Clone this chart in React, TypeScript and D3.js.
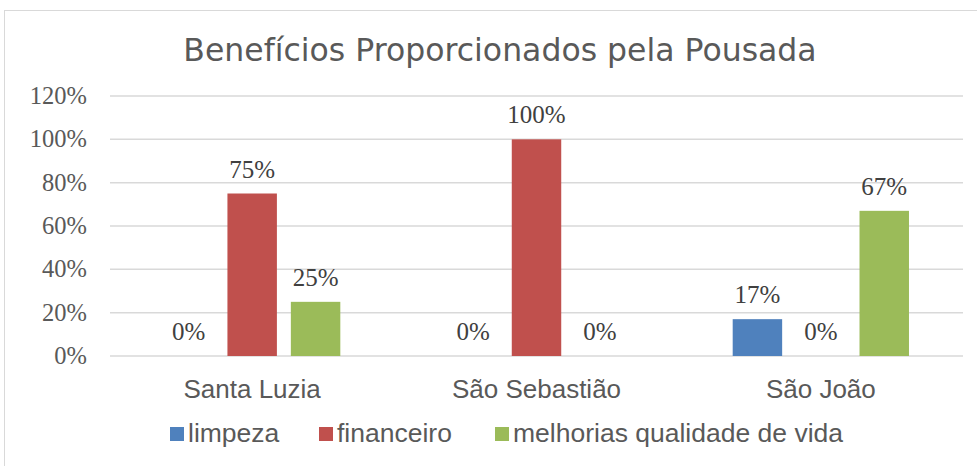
import React from "react";
import * as d3 from "d3";

const categories = ["Santa Luzia", "São Sebastião", "São João"];
const seriesNames = ["limpeza", "financeiro", "melhorias qualidade de vida"];
const limpeza = [0, 0, 0.17];
const financeiro = [0.75, 1.0, 0];
const melhorias = [0.25, 0, 0.67];
const colors = ["#4F81BD", "#C0504D", "#9BBB59"];
const yTicks = [0, 0.2, 0.4, 0.6, 0.8, 1.0, 1.2];

export default function App() {
  const W = 977, H = 466;
  const left = 110, right = 963, top = 96, bottom = 356;
  const series = [limpeza, financeiro, melhorias];
  const x0 = d3.scaleBand().domain(categories).range([left, right]).paddingInner(0.38).paddingOuter(0.19);
  const x1 = d3.scaleBand().domain(seriesNames).range([0, x0.bandwidth()]).paddingInner(0.22);
  const y = d3.scaleLinear().domain([0, 1.2]).range([bottom, top]);
  const fmt = d3.format(".0%");
  const serif = "'Liberation Serif', 'DejaVu Serif', serif";
  const sans = "'Liberation Sans', Arial, sans-serif";
  const legendX = [170, 319, 495];
  return (
    <svg width={W} height={H} style={{ position: "absolute", left: 0, top: 0 }}>
      <rect x={0} y={0} width={W} height={H} fill="#fff" />
      <rect x={4.5} y={10.5} width={W + 10} height={H} fill="none" stroke="#D9D9D9" strokeWidth={1} />
      <text x={500} y={61} textAnchor="middle" fontFamily="'DejaVu Sans', Verdana, sans-serif" fontSize={31.5} fill="#595959">
        Benefícios Proporcionados pela Pousada
      </text>
      {yTicks.map((t) => (
        <g key={t}>
          <line x1={left} x2={right} y1={y(t)} y2={y(t)} stroke="#D9D9D9" strokeWidth={1.5} />
          <text x={87} y={y(t) + 8} textAnchor="end" fontFamily={serif} fontSize={24.5} fill="#595959">
            {fmt(t)}
          </text>
        </g>
      ))}
      {categories.map((c, ci) => (
        <g key={c} transform={`translate(${x0(c)},0)`}>
          {seriesNames.map((s, si) => {
            const v = series[si][ci];
            const bx = x1(s)!;
            return (
              <g key={s}>
                {v > 0 && (
                  <rect x={bx} y={y(v)} width={x1.bandwidth()} height={bottom - y(v)} fill={colors[si]} />
                )}
                <text
                  x={bx + x1.bandwidth() / 2}
                  y={y(v) - 16}
                  textAnchor="middle"
                  fontFamily={serif}
                  fontSize={25}
                  fill="#404040"
                >
                  {fmt(v)}
                </text>
              </g>
            );
          })}
          <text
            x={x0.bandwidth() / 2}
            y={398}
            textAnchor="middle"
            fontFamily={sans}
            fontSize={26}
            fill="#595959"
          >
            {c}
          </text>
        </g>
      ))}
      {seriesNames.map((s, si) => (
        <g key={s}>
          <rect x={legendX[si]} y={427} width={14} height={14} fill={colors[si]} />
          <text x={legendX[si] + 18} y={442} fontFamily={sans} fontSize={26.5} fill="#595959">
            {s}
          </text>
        </g>
      ))}
    </svg>
  );
}
